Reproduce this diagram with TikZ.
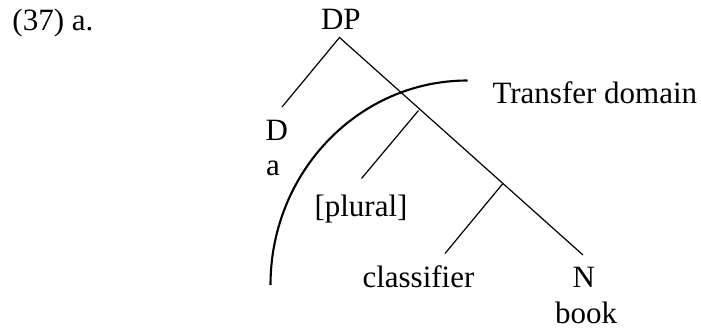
\documentclass[tikz,border=0pt]{standalone}
\usepackage{fontspec}
\setmainfont{Liberation Serif}
\begin{document}
\begin{tikzpicture}[x=1pt,y=-1pt,
  lbl/.style={anchor=base west,inner sep=0pt,outer sep=0pt,font=\fontsize{31}{37}\selectfont},
  branch/.style={line width=1.2pt},
  tdarc/.style={line width=2.1pt}]
\useasboundingbox (0,0) rectangle (701,329);
% texts
\node[lbl] (ex) at (12.5,31) {(37) a.};
\node[lbl] (dp) at (321,30) {DP};
\node[lbl] (d) at (265.5,140) {D};
\node[lbl] (da) at (266,175) {a};
\node[lbl] (pl) at (314.5,216.5) {[plural]};
\node[lbl] (cl) at (362.5,287) {classifier};
\node[lbl] (n) at (572.5,287) {N};
\node[lbl] (bk) at (555,323) {book};
\node[lbl] (td) at (492.5,103) {Transfer domain};
% branch points
\coordinate (top) at (339.5,37.5);
\coordinate (dend) at (282,107);
\coordinate (nend) at (583,255);
\coordinate (b1) at (418.5,110.5);
\coordinate (b1end) at (361.5,178.5);
\coordinate (b2) at (502.5,184);
\coordinate (b2end) at (445,253.5);
\draw[branch] (dend) -- (top) -- (nend);
\draw[branch] (b1) -- (b1end);
\draw[branch] (b2) -- (b2end);
% transfer domain arc
\coordinate (arcstart) at (270.5,285);
\draw[tdarc] (arcstart) arc[start angle=180,end angle=90,x radius=197pt,y radius=204.5pt];
\end{tikzpicture}
\end{document}
